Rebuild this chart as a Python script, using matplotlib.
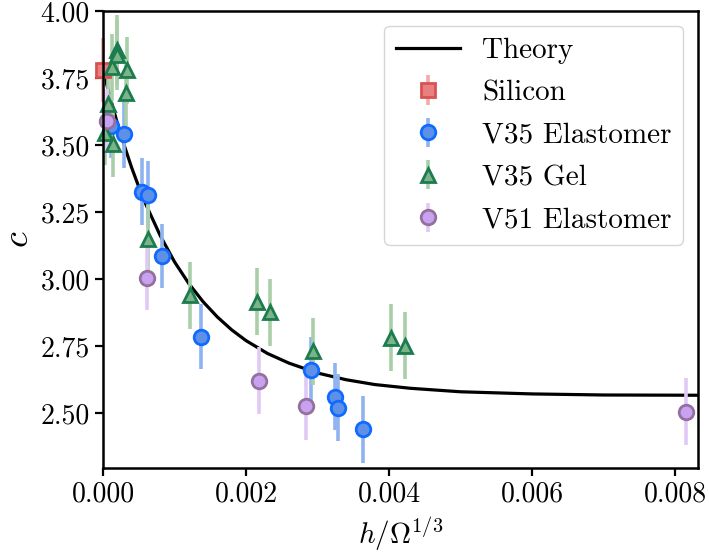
import matplotlib
matplotlib.use("Agg")
import matplotlib.pyplot as plt
import numpy as np

# theory curve
theory_x = [0.0, 0.0001, 0.0002, 0.0003, 0.0004, 0.0005, 0.0006, 0.0008, 0.001,
            0.0012, 0.0014, 0.0016, 0.0018, 0.002, 0.0023, 0.0026, 0.003, 0.0034,
            0.0038, 0.0043, 0.005, 0.006, 0.007, 0.0084]
theory_c = [3.780, 3.677, 3.582, 3.496, 3.416, 3.344, 3.278, 3.162, 3.064,
            2.983, 2.915, 2.858, 2.810, 2.770, 2.722, 2.686, 2.649, 2.624,
            2.606, 2.592, 2.579, 2.571, 2.567, 2.566]

silicon_x = [0.0]
silicon_c = [3.78]
silicon_err = [0.12]

v35e_x = [0.00011, 0.00029, 0.000545, 0.00063, 0.000825, 0.00137, 0.00291, 0.00324, 0.00329, 0.00364]
v35e_c = [3.57, 3.54, 3.325, 3.315, 3.085, 2.785, 2.66, 2.56, 2.52, 2.44]
v35e_err = [0.12, 0.125, 0.125, 0.125, 0.12, 0.12, 0.125, 0.125, 0.125, 0.125]

v35g_x = [0.00003, 0.000065, 0.00012, 0.00014, 0.0002, 0.0002, 0.00032, 0.00033,
          0.000634, 0.00121, 0.00215, 0.00234, 0.00293, 0.00403, 0.00422]
v35g_c = [3.545, 3.655, 3.79, 3.505, 3.855, 3.835, 3.695, 3.78,
          3.15, 2.94, 2.915, 2.875, 2.73, 2.78, 2.75]
v35g_err = [0.12, 0.12, 0.125, 0.125, 0.13, 0.13, 0.125, 0.125,
            0.125, 0.125, 0.125, 0.125, 0.125, 0.125, 0.125]

v51_x = [0.00006, 0.00062, 0.00218, 0.00284, 0.00815]
v51_c = [3.59, 3.005, 2.62, 2.525, 2.505]
v51_err = [0.12, 0.12, 0.125, 0.125, 0.125]

plt.rcParams['font.family'] = 'serif'
plt.rcParams['font.serif'] = ['cmr10']
plt.rcParams['mathtext.fontset'] = 'cm'
plt.rcParams['axes.formatter.use_mathtext'] = True
plt.rcParams['axes.unicode_minus'] = False
plt.rcParams['font.size'] = 20

fig = plt.figure(figsize=(7.09, 5.54), dpi=100)
ax = fig.add_axes([0.1453, 0.155, 0.8387, 0.825])

ax.plot(theory_x, theory_c, color='black', lw=2.3, label='Theory', zorder=1)

series = [
    (silicon_x, silicon_c, silicon_err, 's', '#e98080', '#d95252', '#f5a9a9', 'Silicon'),
    (v35e_x, v35e_c, v35e_err, 'o', '#5f90e8', '#0f6bff', '#8fb3f0', 'V35 Elastomer'),
    (v35g_x, v35g_c, v35g_err, '^', '#7db389', '#1b7c4e', '#a9cfa9', 'V35 Gel'),
    (v51_x, v51_c, v51_err, 'o', '#c8a2f0', '#93719f', '#e0c9f7', 'V51 Elastomer'),
]
for xs, cs, es, m, face, edge, ecol, lab in series:
    eb = ax.errorbar(xs, cs, yerr=es, fmt=m, ms=10.5, mfc=face, mec=edge, mew=2,
                     ecolor=ecol, elinewidth=2.6, capsize=0, label=lab, zorder=2)
    eb.lines[0].set_clip_on(False)
    for art in eb.lines[2]:
        art.set_clip_on(False)

ax.set_xlim(0, 0.008317)
ax.set_ylim(2.294, 4.0)
ax.set_xticks([0.0, 0.002, 0.004, 0.006, 0.008])
ax.set_xticklabels(['0.000', '0.002', '0.004', '0.006', '0.008'])
ax.set_yticks([2.5, 2.75, 3.0, 3.25, 3.5, 3.75, 4.0])
ax.set_yticklabels(['2.50', '2.75', '3.00', '3.25', '3.50', '3.75', '4.00'])
ax.set_xlabel(r'$h/\Omega^{1/3}$', fontsize=21, labelpad=5)
ax.set_ylabel(r'$c$', fontsize=26, labelpad=4)

for s in ax.spines.values():
    s.set_linewidth(1.8)
ax.tick_params(width=1.6, length=6, labelsize=20)

ax.legend(loc='upper right', fontsize=21, handlelength=2.2, borderpad=0.4,
          labelspacing=0.55, handletextpad=0.75, borderaxespad=0.5)

fig.savefig('out.png', dpi=100)
